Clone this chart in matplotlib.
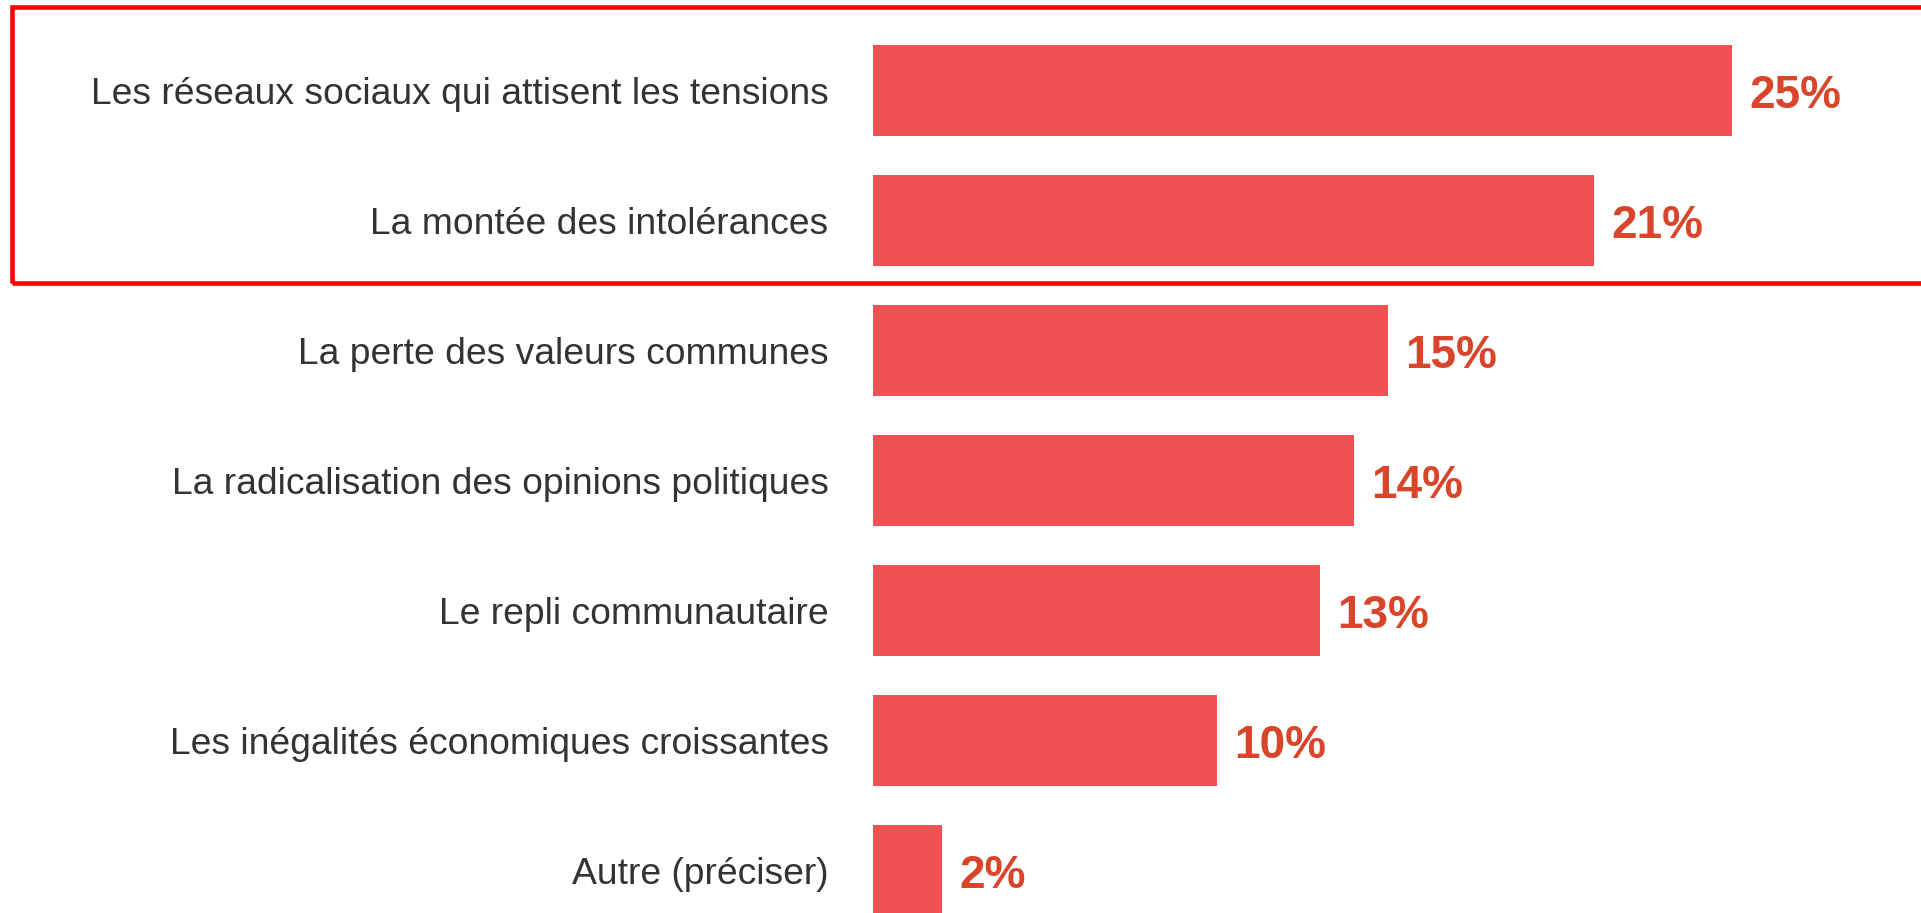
import matplotlib.pyplot as plt
from matplotlib.patches import Rectangle

categories = [
    "Les réseaux sociaux qui attisent les tensions",
    "La montée des intolérances",
    "La perte des valeurs communes",
    "La radicalisation des opinions politiques",
    "Le repli communautaire",
    "Les inégalités économiques croissantes",
    "Autre (préciser)",
]
values = [25, 21, 15, 14, 13, 10, 2]
value_labels = ["25%", "21%", "15%", "14%", "13%", "10%", "2%"]

bar_color = "#F05152"
label_color = "#D9452B"
text_color = "#333333"

plt.rcParams['font.family'] = ['Liberation Sans', 'DejaVu Sans']

fig = plt.figure(figsize=(19.21, 9.13), dpi=100)
ax = fig.add_axes([873 / 1921, 0, 1 - 873 / 1921, 1])

ypos = list(range(len(categories)))
ax.barh(ypos, values, height=0.7, color=bar_color)

# x scale: ~34.35 px per percent
ax.set_xlim(0, (1921 - 873) / 34.35)
ax.set_ylim((913 - 90.5) / 130, -90.5 / 130)

for y, v, lab in zip(ypos, values, value_labels):
    ax.annotate(lab, (v, y), xytext=(12.5, -4.3), textcoords='offset points',
                va='center', ha='left', fontsize=33, fontweight='bold',
                color=label_color)

ax.set_yticks(ypos)
ax.set_yticklabels(categories, fontsize=26.8, color=text_color)
ax.tick_params(axis='y', length=0, pad=32)
ax.set_xticks([])
for s in ax.spines.values():
    s.set_visible(False)

# highlight frame around the top two items
fig.patches.append(Rectangle((11.5 / 1921, 1 - 283 / 913), 1, (283 - 7.5) / 913,
                             transform=fig.transFigure, fill=False,
                             edgecolor='#FF0000', linewidth=3.3))

fig.savefig("out.png", dpi=100)
